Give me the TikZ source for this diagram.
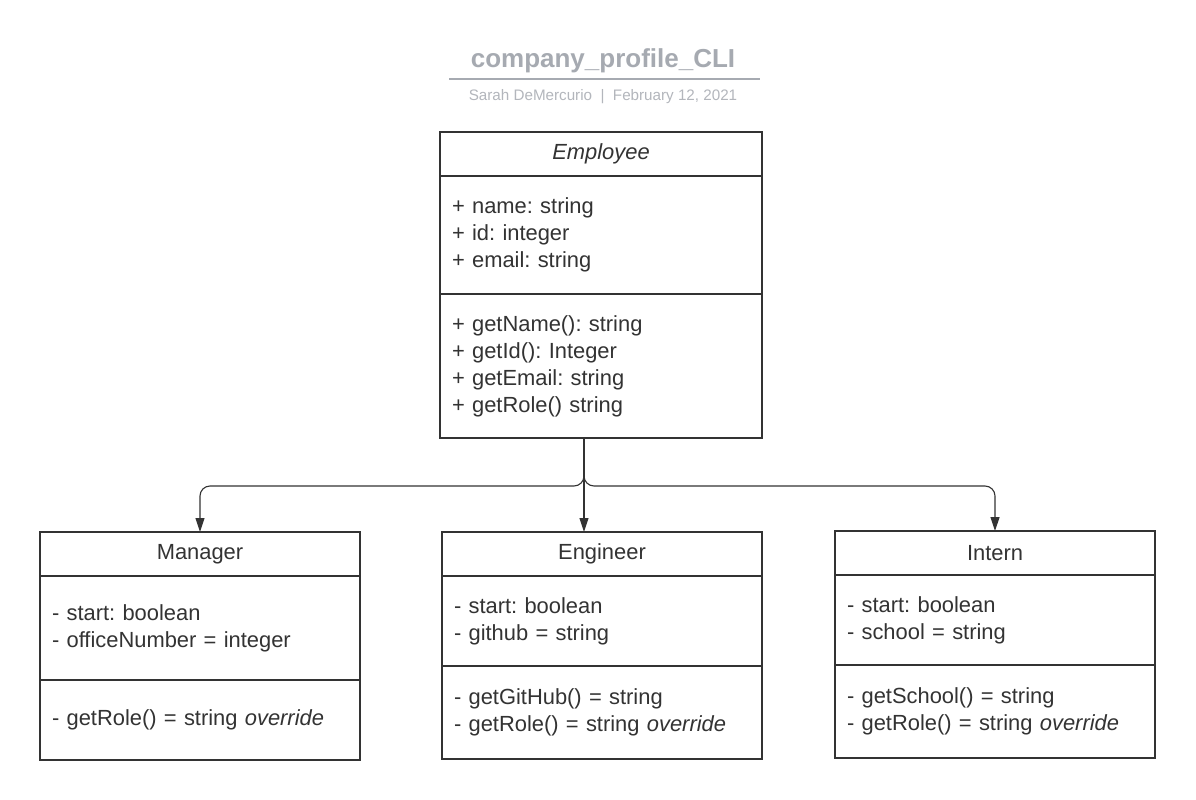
\documentclass[tikz,border=0pt]{standalone}
\usepackage{fontspec}
\setmainfont{Liberation Sans}
\usetikzlibrary{positioning,arrows.meta}
\definecolor{ink}{HTML}{333333}
\definecolor{ttlgray}{HTML}{A6AAB1}
\definecolor{subgray}{HTML}{B3B6BC}
\frenchspacing
\begin{document}
\begin{tikzpicture}[x=1pt,y=-1pt,
    part/.style={draw=ink,line width=1.8pt,text=ink,inner xsep=12pt,inner ysep=0pt,outer sep=0pt,
      font=\fontsize{21.9}{27}\selectfont},
    head/.style={part,align=center,minimum height=44pt},
    body/.style={part,align=left,anchor=north},
    conn/.style={draw=ink,line width=1.1pt,rounded corners=10pt,
      -{Triangle[length=14pt,width=9pt]}}]
  \useasboundingbox[fill=white] (0,0) rectangle (1196,800);
  % title
  \node[text=ttlgray,font=\fontsize{26}{30}\selectfont\bfseries] (title) at (603,61) {company\_profile\_CLI};
  \draw[ttlgray,line width=1.8pt] (449,79) -- (760,79);
  \node[text=subgray,font=\fontsize{15.2}{17}\selectfont] (sub) at (603,97) {Sarah DeMercurio~~|~~February 12, 2021};
  % Employee
  \node[head,minimum width=322pt,anchor=north west] (emp-t) at (440,132) {\itshape Employee};
  \node[body,minimum width=322pt,minimum height=118pt,text width=298pt,below=0pt of emp-t] (emp-a)
    {+ name: string\\+ id: integer\\+ email: string};
  \node[body,minimum width=322pt,minimum height=144pt,text width=298pt,below=0pt of emp-a] (emp-m)
    {+ getName(): string\\+ getId(): Integer\\+ getEmail: string\\+ getRole() string};
  % Manager
  \node[head,minimum width=320pt,anchor=north west] (mgr-t) at (40,532) {Manager};
  \node[body,minimum width=320pt,minimum height=104pt,text width=296pt,below=0pt of mgr-t] (mgr-a)
    {- start: boolean\\- officeNumber = integer};
  \node[body,minimum width=320pt,minimum height=80pt,text width=296pt,below=0pt of mgr-a] (mgr-m)
    {- getRole() = string \textit{override}};
  % Engineer
  \node[head,minimum width=320pt,anchor=north west] (eng-t) at (442,532) {Engineer};
  \node[body,minimum width=320pt,minimum height=90pt,text width=296pt,below=0pt of eng-t] (eng-a)
    {- start: boolean\\- github = string};
  \node[body,minimum width=320pt,minimum height=93pt,text width=296pt,below=0pt of eng-a] (eng-m)
    {- getGitHub() = string\\- getRole() = string \textit{override}};
  % Intern
  \node[head,minimum width=320pt,anchor=north west] (int-t) at (835,531) {Intern};
  \node[body,minimum width=320pt,minimum height=90pt,text width=296pt,below=0pt of int-t] (int-a)
    {- start: boolean\\- school = string};
  \node[body,minimum width=320pt,minimum height=93pt,text width=296pt,below=0pt of int-a] (int-m)
    {- getSchool() = string\\- getRole() = string \textit{override}};
  % inheritance
  \coordinate (split) at (584,486);
  \draw[conn] (split |- emp-m.south) -- (split |- eng-t.north);
  \draw[conn] (split |- emp-m.south) -- (split) -| (mgr-t.north);
  \draw[conn] (split |- emp-m.south) -- (split) -| (int-t.north);
\end{tikzpicture}
\end{document}
